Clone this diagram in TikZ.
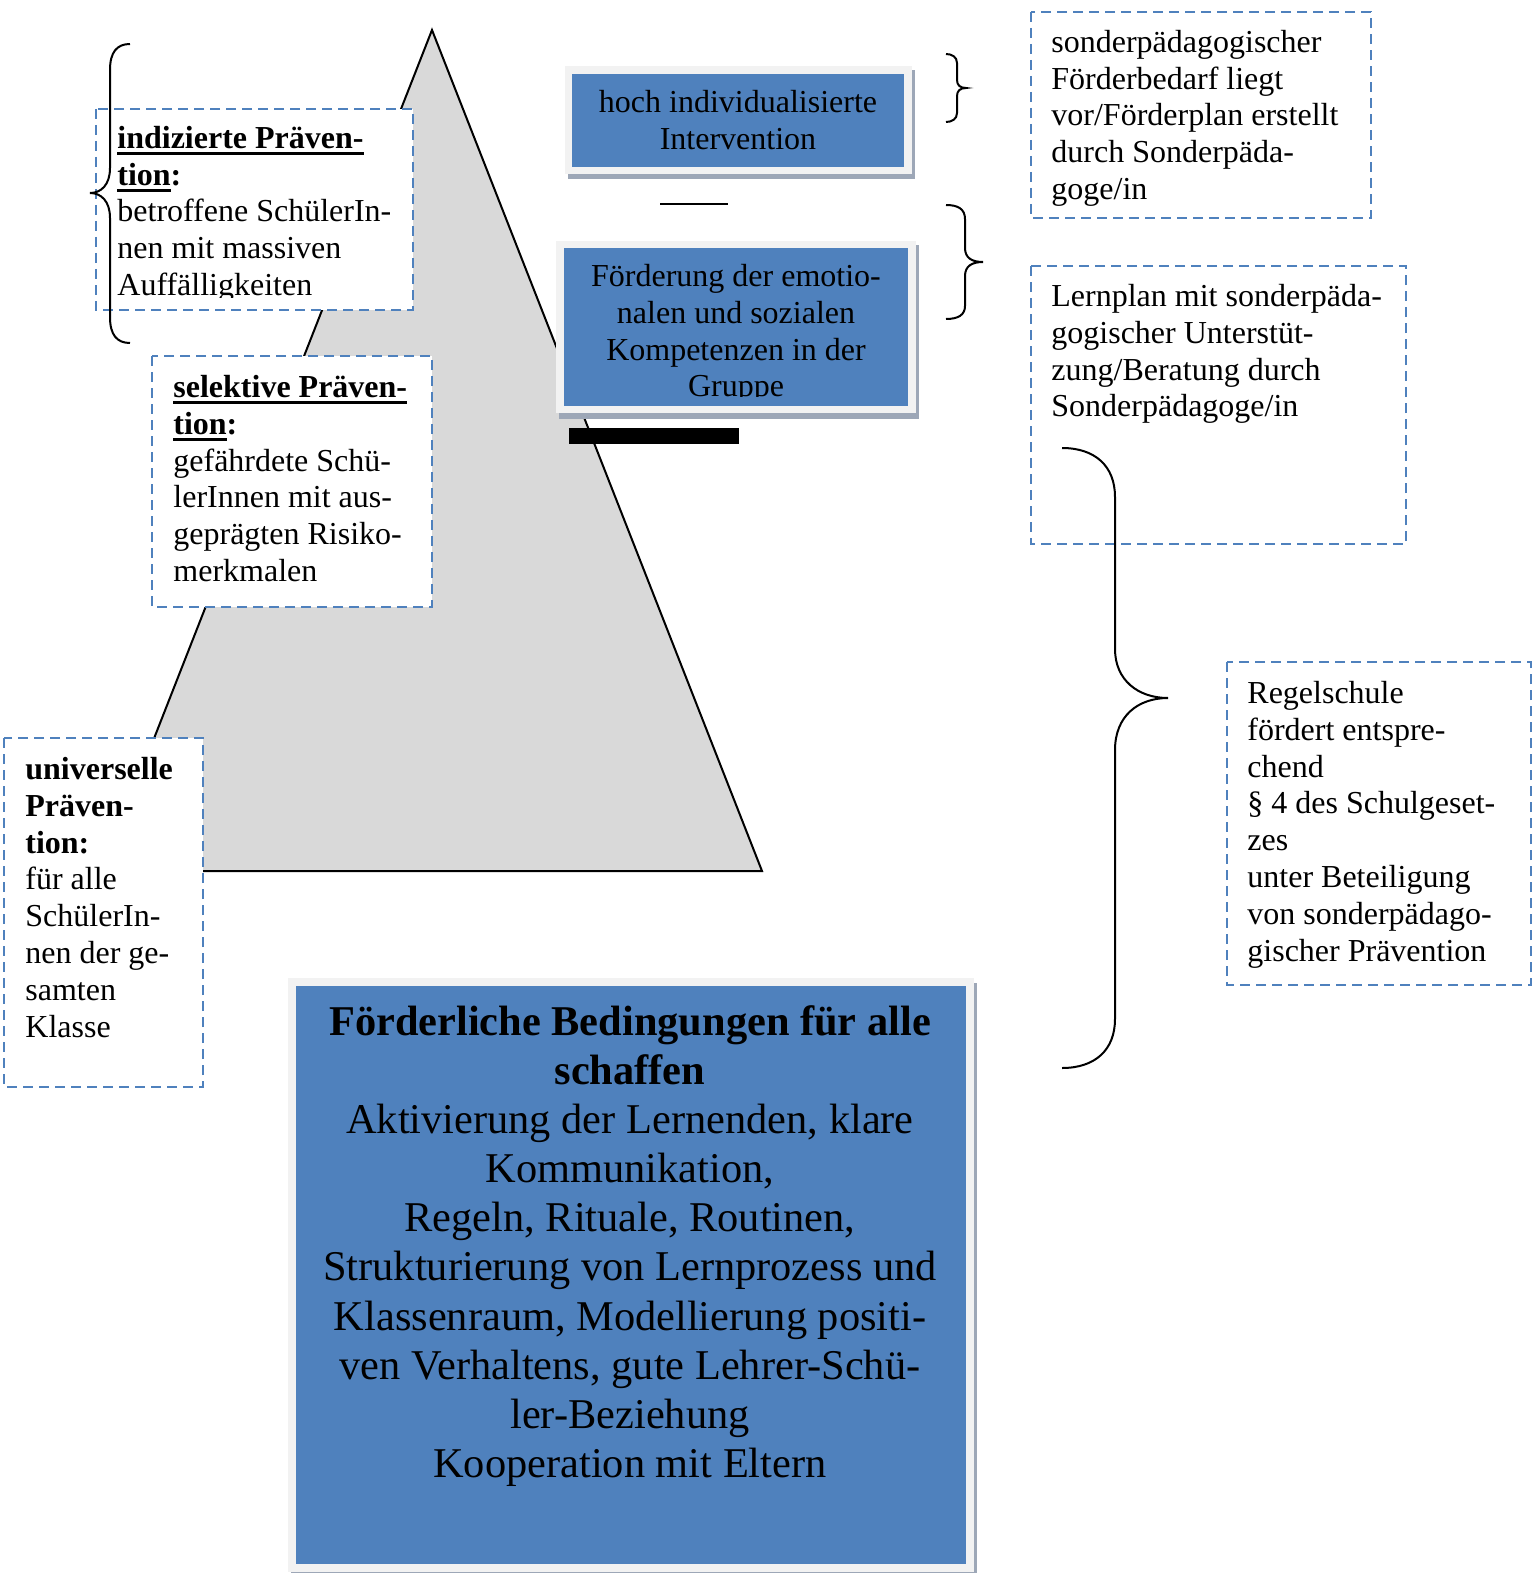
\documentclass[tikz,border=0pt]{standalone}
\usepackage{fontspec}
\setmainfont{Liberation Serif}
\definecolor{offblue}{HTML}{4F81BD}
\definecolor{dashblue}{HTML}{4F81BD}
\definecolor{trigray}{HTML}{D9D9D9}
\definecolor{framegray}{HTML}{F2F2F2}
\definecolor{shadowc}{HTML}{9DA7B7}
\newcommand\myul[1]{\setbox0\hbox{#1}\rlap{\rule[-3.3pt]{\wd0}{1.5pt}}\box0}
\newcommand\tstrut{\rule{0pt}{15pt}}
\newcommand\bstrut{\rule{0pt}{20pt}}
\begin{document}
\begin{tikzpicture}[x=0.5pt,y=-0.5pt,
  dbox/.style={draw=dashblue, line width=1.4pt, dash pattern=on 5pt off 3pt, fill=white},
  stxt/.style={font=\fontsize{16}{18.4}\selectfont, inner sep=0pt, anchor=north west, align=left},
  ctxt/.style={font=\fontsize{16}{18.4}\selectfont, inner sep=0pt, anchor=north, align=center},
  btxt/.style={font=\fontsize{21.2}{24.55}\selectfont, inner sep=0pt, anchor=north, align=center},
  bracel/.style={line width=1pt, black},
  tri/.style={fill=trigray, draw=black, line width=1pt, line join=miter}]
\useasboundingbox (0,0) rectangle (1535,1573);
\fill[white] (0,0) rectangle (1535,1573);

% pyramid
\filldraw[tri] (432,30) -- (762,871) -- (102,871) -- cycle;

% top blue box
\fill[shadowc] (568,70) rectangle (915,179);
\fill[framegray] (565,66) rectangle (912,174);
\fill[offblue] (572,74) rectangle (904,167);
\node[ctxt] (hoch) at (738,82) {\tstrut hoch individualisierte\\ Intervention};

% short line
\coordinate (la) at (660,204);
\coordinate (lb) at (728,204);
\draw[line width=1pt] (la) -- (lb);

% second blue box
\fill[shadowc] (559,245) rectangle (919,419);
\fill[framegray] (556,241) rectangle (916,413);
\fill[offblue] (564,248) rectangle (908,406);
\begin{scope}
\clip (564,248) rectangle (908,396);
\node[ctxt] (foerd) at (736,256) {\tstrut Förderung der emotio-\\ nalen und sozialen\\ Kompetenzen in der\\ Gruppe};
\end{scope}

% black bar
\fill[black] (569,428) rectangle (739,444);

% indicated prevention
\draw[dbox] (96,109) rectangle (413,310);
\begin{scope}
\clip (96,109) rectangle (413,297);
\node[stxt] (ind) at (117,118) {\tstrut\myul{\textbf{indizierte Präven-}}\\ \myul{\textbf{tion}}\textbf{:}\\ betroffene SchülerIn-\\ nen mit massiven\\ Auffälligkeiten};
\end{scope}

% selective prevention
\draw[dbox] (152,356) rectangle (432,607);
\node[stxt] (sel) at (173,367) {\tstrut\myul{\textbf{selektive Präven-}}\\ \myul{\textbf{tion}}\textbf{:}\\ gefährdete Schü-\\ lerInnen mit aus-\\ geprägten Risiko-\\ merkmalen};

% universal prevention
\draw[dbox] (4,738) rectangle (203,1087);
\node[stxt] (uni) at (25,749) {\tstrut\textbf{universelle}\\ \textbf{Präven-}\\ \textbf{tion:}\\ für alle\\ SchülerIn-\\ nen der ge-\\ samten\\ Klasse};

% right boxes
\draw[dbox] (1031,12) rectangle (1371,218);
\node[stxt] (sfb) at (1051,22) {\tstrut sonderpädagogischer\\ Förderbedarf liegt\\ vor/Förderplan erstellt\\ durch Sonderpäda-\\ goge/in};

\draw[dbox] (1031,266) rectangle (1406,544);
\node[stxt] (lern) at (1051,276) {\tstrut Lernplan mit sonderpäda-\\ gogischer Unterstüt-\\ zung/Beratung durch\\ Sonderpädagoge/in};

\draw[dbox] (1227,662) rectangle (1531,985);
\node[stxt] (regel) at (1247,673) {\tstrut Regelschule\\ fördert entspre-\\ chend\\ § 4 des Schulgeset-\\ zes\\ unter Beteiligung\\ von sonderpädago-\\ gischer Prävention};

% bottom big box
\fill[shadowc] (291,983) rectangle (977,1576);
\fill[framegray] (288,978) rectangle (974,1572);
\fill[offblue] (296,986) rectangle (966,1564);
\node[btxt] (base) at (630,995) {\bstrut\textbf{Förderliche Bedingungen für alle}\\ \textbf{schaffen}\\ Aktivierung der Lernenden, klare\\ Kommunikation,\\ Regeln, Rituale, Routinen,\\ Strukturierung von Lernprozess und\\ Klassenraum, Modellierung positi-\\ ven Verhaltens, gute Lehrer-Schü-\\ ler-Beziehung\\ Kooperation mit Eltern};

% braces
\draw[bracel] (130,44) .. controls (117,44) and (110,52) .. (110,70) -- (110,168)
  .. controls (110,185) and (101,193) .. (90,193)
  .. controls (101,193) and (110,201) .. (110,218) -- (110,317)
  .. controls (110,335) and (117,343) .. (130,343);

\draw[bracel] (946,54) .. controls (952,54) and (957,57) .. (957,63) -- (957,80)
  .. controls (957,85) and (960,88) .. (966,88)
  .. controls (960,88) and (957,91) .. (957,96) -- (957,113)
  .. controls (957,119) and (952,122) .. (946,122);

\draw[bracel] (946,205) .. controls (958,205) and (965,209) .. (965,219) -- (965,248)
  .. controls (965,258) and (972,262) .. (983,262)
  .. controls (972,262) and (965,266) .. (965,276) -- (965,306)
  .. controls (965,315) and (958,319) .. (946,319);

\draw[bracel] (1062,448) .. controls (1095,448) and (1115,466) .. (1115,497) -- (1115,649)
  .. controls (1115,680) and (1138,698) .. (1168,698)
  .. controls (1138,698) and (1115,716) .. (1115,750) -- (1115,1019)
  .. controls (1115,1050) and (1095,1068) .. (1062,1068);
\end{tikzpicture}
\end{document}
